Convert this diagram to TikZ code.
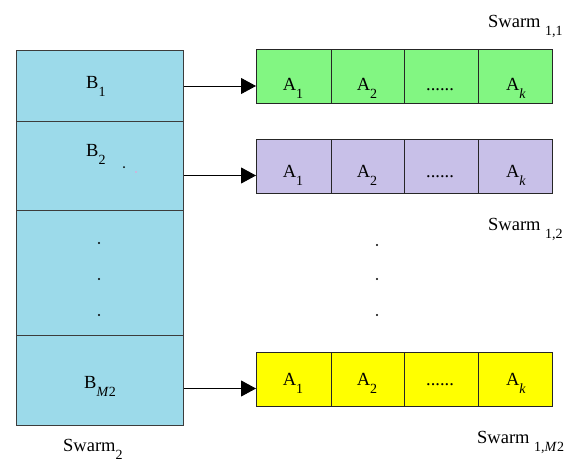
\documentclass[tikz,border=0pt]{standalone}
\usepackage{fontspec}
\setmainfont{Liberation Serif}
\usetikzlibrary{arrows.meta}
\definecolor{cyanc}{RGB}{156,218,234}
\definecolor{greenc}{RGB}{130,246,130}
\definecolor{purplec}{RGB}{200,192,232}
\definecolor{yellowc}{RGB}{255,255,0}
\definecolor{edgec}{RGB}{60,60,60}
\newcommand{\sbs}[1]{\raisebox{-0.45em}{\fontsize{14}{14}\selectfont #1}}
\tikzset{
  lcell/.style={draw=edgec, line width=1pt, fill=cyanc, minimum width=167pt, inner sep=0pt},
  acell/.style={draw=black!85, line width=1pt, minimum height=54pt, inner sep=0pt},
  txt/.style={inner sep=0pt, font=\fontsize{18.5}{20}\selectfont},
  arr/.style={draw=black, line width=0.9pt, -{Triangle[length=15pt,width=16pt]}},
  dotn/.style={circle, fill=black, inner sep=0pt, minimum size=2.2pt}
}
\begin{document}
\begin{tikzpicture}[x=1pt,y=-1pt]
\useasboundingbox (0,0) rectangle (576,464);
% left column
\node[lcell, minimum height=71pt, anchor=north west] (b1) at (16,50) {};
\node[lcell, minimum height=89pt, anchor=north west] (b2) at (16,121) {};
\node[lcell, minimum height=125pt, anchor=north west] (bd) at (16,210) {};
\node[lcell, minimum height=90pt, anchor=north west] (bm) at (16,335) {};
\node[txt, anchor=base west] (tb1) at (86,88) {B\sbs{1}};
\node[txt, anchor=base west] (tb2) at (86,156) {B\sbs{2}};
\node[dotn, minimum size=2pt] (sd1) at (124,167) {};
\node[circle, fill=magenta!40, inner sep=0pt, minimum size=1.6pt] (sd2) at (136,172) {};
\node[dotn] (ld1) at (99,243) {};
\node[dotn] (ld2) at (99,279) {};
\node[dotn] (ld3) at (99,315) {};
\node[txt, anchor=base west] (tbm) at (84,388) {B\sbs{\textit{M}2}};
\node[txt, anchor=base west] (ts2) at (63,451) {Swarm\sbs{2}};
% green row
\node[acell, fill=greenc, minimum width=75pt, anchor=north west] (g1) at (256,49) {};
\node[acell, fill=greenc, minimum width=73pt, anchor=north west] (g2) at (331,49) {};
\node[acell, fill=greenc, minimum width=74pt, anchor=north west] (g3) at (404,49) {};
\node[acell, fill=greenc, minimum width=74pt, anchor=north west] (g4) at (478,49) {};
\node[txt, anchor=base] (tg1) at (293,90) {A\sbs{1}};
\node[txt, anchor=base] (tg2) at (367,90) {A\sbs{2}};
\node[txt, anchor=base] (tg3) at (440,90) {......};
\node[txt, anchor=base] (tg4) at (516,90) {A\sbs{\textit{k}}};
% purple row
\node[acell, fill=purplec, minimum width=75pt, anchor=north west] (p1) at (256,139) {};
\node[acell, fill=purplec, minimum width=73pt, anchor=north west] (p2) at (331,139) {};
\node[acell, fill=purplec, minimum width=74pt, anchor=north west] (p3) at (404,139) {};
\node[acell, fill=purplec, minimum width=74pt, anchor=north west] (p4) at (478,139) {};
\node[txt, anchor=base] (tp1) at (293,177) {A\sbs{1}};
\node[txt, anchor=base] (tp2) at (367,177) {A\sbs{2}};
\node[txt, anchor=base] (tp3) at (440,177) {......};
\node[txt, anchor=base] (tp4) at (516,177) {A\sbs{\textit{k}}};
% yellow row
\node[acell, fill=yellowc, minimum width=75pt, anchor=north west] (y1) at (256,352) {};
\node[acell, fill=yellowc, minimum width=73pt, anchor=north west] (y2) at (331,352) {};
\node[acell, fill=yellowc, minimum width=74pt, anchor=north west] (y3) at (404,352) {};
\node[acell, fill=yellowc, minimum width=74pt, anchor=north west] (y4) at (478,352) {};
\node[txt, anchor=base] (ty1) at (293,385) {A\sbs{1}};
\node[txt, anchor=base] (ty2) at (367,385) {A\sbs{2}};
\node[txt, anchor=base] (ty3) at (440,385) {......};
\node[txt, anchor=base] (ty4) at (516,385) {A\sbs{\textit{k}}};
% right dots
\node[dotn] (rd1) at (377,245) {};
\node[dotn] (rd2) at (377,279) {};
\node[dotn] (rd3) at (377,315) {};
% swarm labels
\node[txt, anchor=base west] (s11) at (488,27) {Swarm \sbs{1,1}};
\node[txt, anchor=base west] (s12) at (488,230) {Swarm \sbs{1,2}};
\node[txt, anchor=base west] (s1m) at (477,443) {Swarm \sbs{1,\textit{M}2}};
% arrows
\draw[arr] (b1.east) -- (b1.east -| g1.west);
\draw[arr] ([yshift=-9.5pt]b2.east) -- ([yshift=-9.5pt]b2.east -| p1.west);
\draw[arr] ([yshift=-8pt]bm.east) -- ([yshift=-8pt]bm.east -| y1.west);
\end{tikzpicture}
\end{document}
